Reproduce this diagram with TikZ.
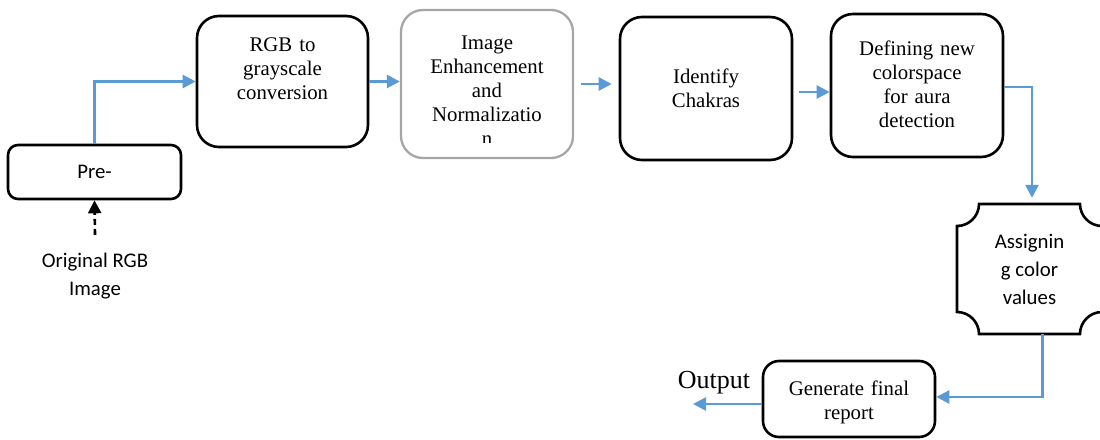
\documentclass[tikz,border=0pt]{standalone}
\usepackage{fontspec}
\setmainfont{Liberation Serif}
\newfontfamily\timesf{Liberation Serif}
\newfontfamily\calib{Carlito}
\usetikzlibrary{arrows.meta,calc}
\definecolor{wblue}{HTML}{5B9BD5}
\definecolor{wgray}{HTML}{A6A6A6}
\begin{document}
\begin{tikzpicture}[x=1pt,y=-1pt,
  box/.style={draw=black,line width=2.6pt,rounded corners=22pt,inner sep=0pt},
  boxtext/.style={font=\timesf\fontsize{20.8}{24}\selectfont,text width=160pt,align=center,inner sep=0pt},
  sanstext/.style={font=\calib\fontsize{20.8}{28}\selectfont,align=center,inner sep=0pt},
  flow/.style={draw=wblue,line width=2.6pt,-{Triangle[length=13pt,width=13pt]}},
  dflow/.style={draw=black,line width=2.6pt,dash pattern=on 6pt off 4pt,-{Triangle[length=13pt,width=13pt]}},
]
\useasboundingbox (0,0) rectangle (1100,439);

% boxes
\node[box,minimum width=171pt,minimum height=131pt] (rgb) at (282.5,81.5) {};
\node[boxtext] (rgbtxt) at (282.5,68.5) {RGB to\\grayscale\\conversion};

\node[box,draw=wgray,line width=2.3pt,minimum width=172pt,minimum height=148pt] (enh) at (487,84) {};
\begin{scope}
  \clip (401,10) rectangle (573,142);
  \node[boxtext] (enhtxt) at (487,90.5) {Image\\Enhancement\\and\\Normalizatio\\n};
\end{scope}

\node[box,minimum width=172pt,minimum height=143pt] (chak) at (706,88.5) {};
\node[boxtext] (chaktxt) at (706,88.5) {Identify\\Chakras};

\node[box,minimum width=172pt,minimum height=143pt] (def) at (917,85.5) {};
\node[boxtext] (deftxt) at (917,84.5) {Defining new\\colorspace\\for aura\\detection};

\node[box,rounded corners=10pt,minimum width=173pt,minimum height=54pt,font=\calib\fontsize{20.8}{24}\selectfont] (pre) at (94.5,172) {Pre-};

\node[sanstext] (orig) at (95,276.5) {Original RGB\\Image};

\node[box,rounded corners=16pt,minimum width=172pt,minimum height=76pt] (gen) at (849,399) {};
\node[boxtext] (gentxt) at (849,402.5) {Generate final\\report};

\node[sanstext,minimum width=145pt,minimum height=130pt] (assign) at (1029.5,269) {Assignin\\g color\\values};
\draw[line width=2.6pt]
  (979,204) -- (1080,204)
  .. controls (1080,216.1) and (1089.9,226) .. (1102,226)
  -- (1102,312)
  .. controls (1089.9,312) and (1080,321.9) .. (1080,334)
  -- (979,334)
  .. controls (979,321.9) and (969.1,312) .. (957,312)
  -- (957,226)
  .. controls (969.1,226) and (979,216.1) .. (979,204) -- cycle;

\node[font=\timesf\fontsize{26}{30}\selectfont,inner sep=0pt] (outlbl) at (714,383) {Output};
\coordinate (out) at (693,404);

% connectors
\draw[flow] (pre.north) |- (rgb.west);
\draw[flow] (rgb.east) -- (rgb.east -| enh.west);
\draw[flow] ([xshift=7pt]enh.east) -- ([xshift=-7pt]enh.east -| chak.west);
\coordinate (c1) at ([xshift=6pt,yshift=-3.5pt]chak.east);
\draw[flow] (c1) -- (c1 -| def.west);
\draw[flow,shorten >=6pt] ([yshift=-1.5pt]def.east) -| ([xshift=2.5pt]assign.north);
\draw[flow] ([xshift=13pt]assign.south) |- ([yshift=2pt]gen.east);
\draw[flow] ([yshift=-5pt]gen.west) -- ([yshift=-5pt]gen.west -| out);
\draw[dflow] ([yshift=18.5pt]orig.north) -- (pre.south);
\end{tikzpicture}
\end{document}
